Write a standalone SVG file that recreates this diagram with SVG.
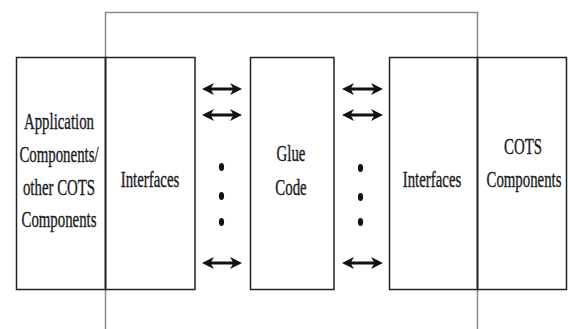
<svg xmlns="http://www.w3.org/2000/svg" width="568" height="329" viewBox="0 0 568 329">
<style>
.bg{fill:#fff}
.box{fill:none;stroke:#222;stroke-width:1.5}
.outer{fill:none;stroke:#8a8a8a;stroke-width:1.5}
.lbl{font-family:"Liberation Serif","Times New Roman",serif;font-size:22.5px;fill:#1a1a1a;stroke:#1a1a1a;stroke-width:0.35;text-anchor:middle}
.arr{stroke:#111;stroke-width:3;fill:none;marker-start:url(#ah);marker-end:url(#ah)}
.dot{fill:#111}
</style>
<defs>
<marker id="ah" viewBox="0 0 12 12" refX="8" refY="6" markerWidth="12" markerHeight="12" markerUnits="userSpaceOnUse" orient="auto-start-reverse">
<path d="M0,0 L12,6 L0,12 L3.5,6 Z" fill="#111"/>
</marker>
</defs>
<rect class="bg" width="568" height="329"/>
<g id="boundary">
<path class="outer" d="M105.5,329 V12.5 H477.5 V329"/>
</g>
<g id="app-components">
<rect class="box" x="16.5" y="57.5" width="89" height="232"/>
<text class="lbl" transform="translate(59,129) scale(0.66,1)">Application</text>
<text class="lbl" transform="translate(59,162) scale(0.66,1)">Components/</text>
<text class="lbl" transform="translate(59,195) scale(0.66,1)">other COTS</text>
<text class="lbl" transform="translate(59,227) scale(0.66,1)">Components</text>
</g>
<g id="interfaces-left">
<rect class="box" x="105.5" y="57.5" width="89.5" height="232"/>
<text class="lbl" transform="translate(150,187) scale(0.66,1)">Interfaces</text>
</g>
<g id="glue-code">
<rect class="box" x="250.5" y="57.5" width="83.5" height="232"/>
<text class="lbl" transform="translate(291,161) scale(0.66,1)">Glue</text>
<text class="lbl" transform="translate(291,195) scale(0.66,1)">Code</text>
</g>
<g id="interfaces-right">
<rect class="box" x="389.5" y="57.5" width="88" height="232"/>
<text class="lbl" transform="translate(432,187) scale(0.66,1)">Interfaces</text>
</g>
<g id="cots-components">
<rect class="box" x="477.5" y="57.5" width="89" height="232"/>
<text class="lbl" transform="translate(523,154) scale(0.66,1)">COTS</text>
<text class="lbl" transform="translate(524,187) scale(0.66,1)">Components</text>
</g>
<g id="connectors">
<line class="arr" x1="206" y1="89" x2="238" y2="89"/>
<line class="arr" x1="206" y1="115" x2="238" y2="115"/>
<line class="arr" x1="206" y1="263" x2="238" y2="263"/>
<line class="arr" x1="346" y1="89" x2="379" y2="89"/>
<line class="arr" x1="346" y1="115" x2="379" y2="115"/>
<line class="arr" x1="346" y1="263" x2="379" y2="263"/>
<ellipse class="dot" cx="221.5" cy="167" rx="2.6" ry="4"/>
<ellipse class="dot" cx="221.5" cy="196" rx="2.6" ry="4"/>
<ellipse class="dot" cx="221.5" cy="222" rx="2.6" ry="4"/>
<ellipse class="dot" cx="360.5" cy="168" rx="2.6" ry="4"/>
<ellipse class="dot" cx="360.5" cy="197" rx="2.6" ry="4"/>
<ellipse class="dot" cx="360.5" cy="222" rx="2.6" ry="4"/>
</g>
</svg>
